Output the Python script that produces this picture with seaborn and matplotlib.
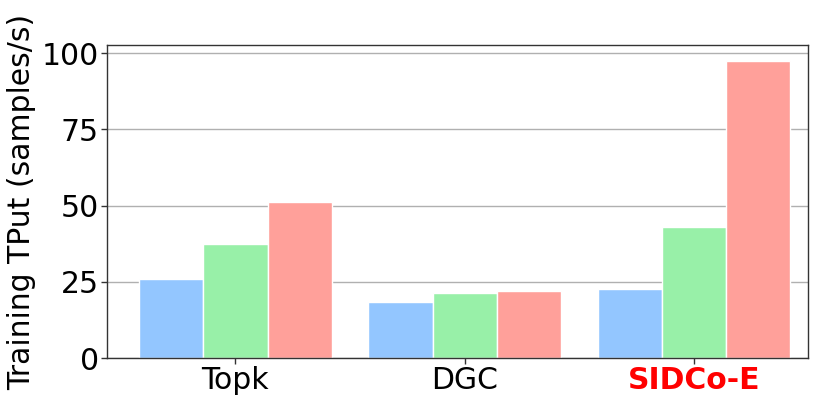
import numpy as np
import pandas as pd
import matplotlib
matplotlib.use("Agg")
import matplotlib.pyplot as plt
import seaborn as sns

methods = ["Topk", "DGC", "SIDCo-E"]
series = ["s1", "s2", "s3"]
s1_vals = [25.8, 18.5, 22.8]
s2_vals = [37.3, 21.2, 43.0]
s3_vals = [51.3, 22.1, 97.6]
colors = ["#93c6ff", "#98f0a8", "#ffa09a"]

df = pd.DataFrame({
    "method": methods * 3,
    "series": [series[0]] * 3 + [series[1]] * 3 + [series[2]] * 3,
    "tput": s1_vals + s2_vals + s3_vals,
})

sns.set_style("white")
plt.rcParams["font.family"] = ["DejaVu Sans"]
plt.rcParams["text.color"] = "black"
plt.rcParams["axes.labelcolor"] = "black"
plt.rcParams["xtick.color"] = "black"
plt.rcParams["ytick.color"] = "black"

fig = plt.figure(figsize=(8.3, 4.05), dpi=100)
ax = fig.add_axes([0.129, 0.116, 0.845, 0.772])

sns.barplot(data=df, x="method", y="tput", hue="series", palette=colors,
            width=0.84, edgecolor="white", linewidth=1, saturation=1,
            legend=False, ax=ax)

ax.set_axisbelow(True)
ax.yaxis.grid(True, color="#b0b0b0", linewidth=1)
ax.set_xlim(-0.56, 2.5)
ax.set_ylim(0, 102.6)
ax.set_yticks([0, 25, 50, 75, 100])
ax.set_xlabel("")
ax.set_ylabel("Training TPut (samples/s)", fontsize=21.5)
ax.tick_params(axis="both", labelsize=21.5, length=4, width=1, color="#333333",
               labelcolor="black", direction="out", pad=2)
ax.tick_params(axis="x", bottom=True)
ax.tick_params(axis="y", left=True)
for sp in ax.spines.values():
    sp.set_color("#333333")
    sp.set_linewidth(1)

lbl = ax.get_xticklabels()[2]
lbl.set_color("red")
lbl.set_fontweight("bold")

fig.savefig("out.png", dpi=100)
